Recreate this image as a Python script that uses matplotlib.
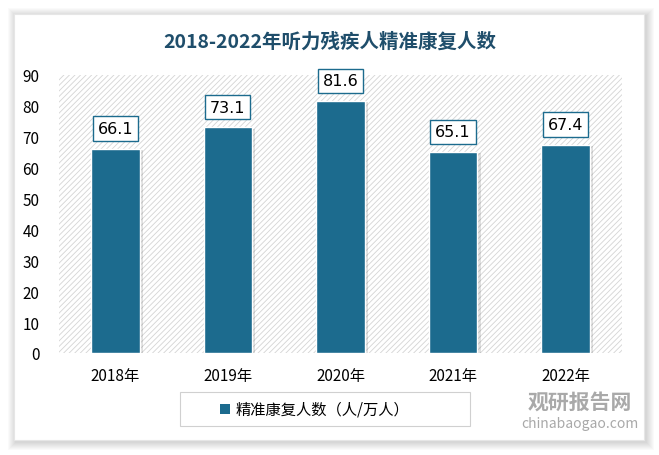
import matplotlib
matplotlib.use("Agg")
import matplotlib.pyplot as plt
from matplotlib.patches import Rectangle

plt.rcParams['font.family'] = ['Noto Sans CJK SC', 'DejaVu Sans']
plt.rcParams['hatch.linewidth'] = 0.6
plt.rcParams['hatch.color'] = '#d4d4d4'

years = ["2018年", "2019年", "2020年", "2021年", "2022年"]
values = [66.1, 73.1, 81.6, 65.1, 67.4]
y_ticks = [0, 10, 20, 30, 40, 50, 60, 70, 80, 90]

title = "2018-2022年听力残疾人精准康复人数"
series_name = "精准康复人数（人/万人）"
bar_color = "#1c6b8e"

W, H = 659, 456
fig = plt.figure(figsize=(W / 100, H / 100), dpi=100)
fig.patch.set_facecolor("white")

# card with soft shadow
for i in range(8):
    pad = 8 - i
    fig.patches.append(Rectangle(((14 - pad + 2) / W, 1 - (441 + pad + 2) / H),
                                 (630 + 2 * pad) / W, (426 + 2 * pad) / H,
                                 transform=fig.transFigure, facecolor="black",
                                 alpha=0.018, edgecolor="none", zorder=0))
fig.patches.append(Rectangle((14 / W, 1 - 441 / H), 630 / W, 426 / H,
                             transform=fig.transFigure, facecolor="white",
                             edgecolor="#e6e6e6", lw=0.8, zorder=1))

fig.text(0.5, 1 - 42 / H, title, ha="center", va="center", fontsize=14,
         color="#1f4e6b", fontweight="bold", zorder=5)

ax = fig.add_axes([59 / W, 1 - 354 / H, (622 - 59) / W, (354 - 76) / H])
ax.set_zorder(3)
ax.set_facecolor("none")
ax.add_patch(Rectangle((0, 0), 1, 1, transform=ax.transAxes, facecolor="white",
                       hatch="//////", edgecolor="#d4d4d4", lw=0, zorder=0))

x = list(range(len(years)))
# bar shadow
ax.bar([i + 0.02 for i in x], [v - 0.5 for v in values], width=0.45,
       color="#000000", alpha=0.12, zorder=1)
ax.bar(x, values, width=0.43, color=bar_color, edgecolor="white",
       lw=1.0, zorder=2, label=series_name)

for xi, v in zip(x, values):
    ax.text(xi, v + 6.5, f"{v}", ha="center", va="center", fontsize=11.5,
            family=["DejaVu Sans"], zorder=4,
            bbox=dict(boxstyle="square,pad=0.3", facecolor="white",
                      edgecolor=bar_color, lw=1.0))

ax.set_xlim(-0.5, len(years) - 0.5)
ax.set_ylim(0, 90)
ax.set_yticks(y_ticks)
ax.set_xticks(x)
ax.set_xticklabels(years)
ax.tick_params(axis="both", length=0, labelsize=11, colors="black")
ax.tick_params(axis="y", pad=14)
ax.tick_params(axis="x", pad=10)
for s in ax.spines.values():
    s.set_visible(False)

# legend box
fig.patches.append(Rectangle((180 / W, 1 - 427 / H), 290 / W, 34 / H,
                             transform=fig.transFigure, facecolor="white",
                             edgecolor="#d0d0d0", lw=0.8, zorder=2))
fig.patches.append(Rectangle((220 / W, 1 - 415 / H), 10 / W, 10 / H,
                             transform=fig.transFigure, facecolor=bar_color,
                             edgecolor="none", zorder=3))
fig.text(236 / W, 1 - 410 / H, series_name, ha="left", va="center",
         fontsize=11, zorder=4)

# watermark
fig.text(580 / W, 1 - 402 / H, "观研报告网", ha="center", va="center",
         fontsize=15, color="#9a9a9a", fontweight="bold", alpha=0.85, zorder=6)
fig.text(580 / W, 1 - 424 / H, "chinabaogao.com", ha="center", va="center",
         fontsize=10, color="#9a9a9a", alpha=0.85, zorder=6)

fig.savefig("out.png", dpi=100)
